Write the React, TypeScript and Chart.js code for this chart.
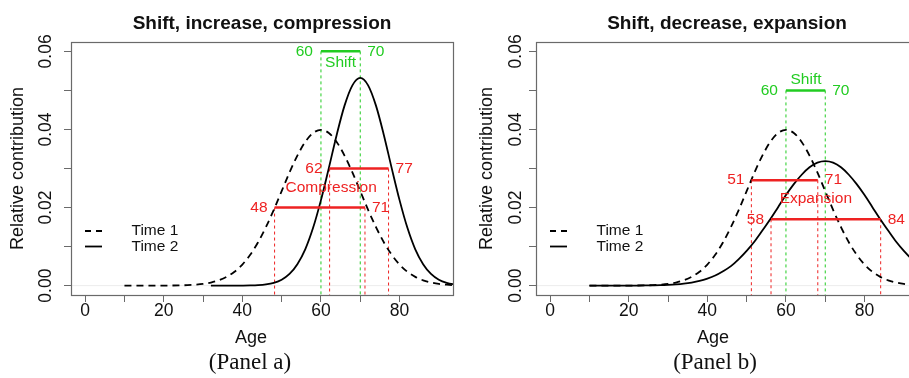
import React, { useEffect, useRef } from 'react';
import { Chart, registerables } from 'chart.js';

Chart.register(...registerables);

// ---------------- data ----------------
const AGES = [10, 12, 14, 16, 18, 20, 22, 24, 26, 28, 30, 32, 34, 36, 38, 40, 42, 44, 46, 48, 50, 52, 54, 56, 58, 60, 62, 64, 66, 68, 70, 72, 74, 76, 78, 80, 82, 84, 86, 88, 90, 92, 94, 96];

const TIME1 = [0.0000001, 0.0000004, 0.000001, 0.0000025, 0.000006, 0.000013, 0.000029, 0.000061, 0.000123, 0.000239, 0.000443, 0.00079, 0.00136, 0.00224, 0.00355, 0.0054, 0.0079, 0.0111, 0.015, 0.0194, 0.0242, 0.029, 0.0333, 0.0368, 0.0391, 0.0399, 0.0391, 0.0368, 0.0333, 0.029, 0.0242, 0.0194, 0.015, 0.0111, 0.0079, 0.0054, 0.00355, 0.00224, 0.00136, 0.00079, 0.00044, 0.00024, 0.00012, 0.00006];

const TIME2_A = [null, null, null, null, null, null, null, null, null, null, null, 0.0000001, 0.0000005, 0.0000018, 0.000006, 0.000018, 0.00005, 0.00013, 0.00032, 0.00072, 0.00152, 0.003, 0.0055, 0.0093, 0.0148, 0.0219, 0.0301, 0.0386, 0.0461, 0.0513, 0.0532, 0.0513, 0.0461, 0.0386, 0.0301, 0.0219, 0.0148, 0.0093, 0.0055, 0.003, 0.00152, 0.00072, 0.00032, 0.00013];

const TIME2_B = [0.0000003, 0.0000007, 0.0000014, 0.0000028, 0.0000056, 0.000011, 0.00002, 0.00004, 0.00007, 0.00011, 0.00019, 0.00031, 0.0005, 0.00079, 0.0012, 0.0018, 0.0026, 0.0037, 0.005, 0.0068, 0.0089, 0.0113, 0.0141, 0.017, 0.0201, 0.0232, 0.026, 0.0284, 0.0303, 0.0315, 0.0319, 0.0315, 0.0303, 0.0284, 0.026, 0.0232, 0.0201, 0.017, 0.0141, 0.0113, 0.0089, 0.0068, 0.005, 0.0037];

const X_TICKS = [0, 10, 20, 30, 40, 50, 60, 70, 80];
const X_LABELED = [0, 20, 40, 60, 80];
const Y_TICKS = [0, 0.01, 0.02, 0.03, 0.04, 0.05, 0.06];
const Y_LABELED = [0, 0.02, 0.04, 0.06];
const X_RANGE = [-3.6, 93.6];
const Y_RANGE = [-0.0024, 0.0624];

const TITLES = ['Shift, increase, compression', 'Shift, decrease, expansion'];
const CAPTIONS = ['(Panel a)', '(Panel b)'];
const SERIES_NAMES = ['Time 1', 'Time 2'];
const X_TITLE = 'Age';
const Y_TITLE = 'Relative contribution';

const SHIFT_NAME = 'Shift';
const SHIFT_X = [60, 70];
const SHIFT_Y = [0.06, 0.05];

const CHANGE_NAMES = ['Compression', 'Expansion'];
const CHANGE_A_Y = [0.03, 0.02];
const CHANGE_A_FROM = [62.2, 48.2];
const CHANGE_A_TO = [77.2, 71.2];
const CHANGE_A_LABELS = [['62', '77'], ['48', '71']];
const CHANGE_B_Y = [0.027, 0.017];
const CHANGE_B_FROM = [51.2, 56.2];
const CHANGE_B_TO = [68.1, 84.1];
const CHANGE_B_LABELS = [['51', '71'], ['58', '84']];

// ---------------- styles / layout ----------------
const GREEN = '#22cc22';
const RED = '#ee2222';
const INK = '#111111';
const FRAME = '#6a6a6a';
const SANS = '"Liberation Sans", Arial, Helvetica, sans-serif';
const SERIF = '"Liberation Serif", "Times New Roman", Times, serif';

const PANELS = [
  {
    left: 0,
    title: TITLES[0],
    caption: CAPTIONS[0],
    captionCenter: 250,
    time2: TIME2_A,
    shiftY: SHIFT_Y[0],
    shiftLabelAt: [65, 0.057],
    changeY: CHANGE_A_Y,
    changeFrom: CHANGE_A_FROM,
    changeTo: CHANGE_A_TO,
    changeLabels: CHANGE_A_LABELS,
    changeName: CHANGE_NAMES[0],
    changeNameAt: [62.6, 0.0251],
    yTickPad: 0.3,
    yTitlePad: 7.5,
    ageShift: -11,
  },
  {
    left: 465,
    title: TITLES[1],
    caption: CAPTIONS[1],
    captionCenter: 715,
    time2: TIME2_B,
    shiftY: SHIFT_Y[1],
    shiftLabelAt: [65.1, 0.0527],
    changeY: CHANGE_B_Y,
    changeFrom: CHANGE_B_FROM,
    changeTo: CHANGE_B_TO,
    changeLabels: CHANGE_B_LABELS,
    changeName: CHANGE_NAMES[1],
    changeNameAt: [67.6, 0.0222],
    yTickPad: -4.3,
    yTitlePad: 10.9,
    ageShift: -14,
  },
];

const LEGEND_DY = [189, 204.5];

type PanelCfg = (typeof PANELS)[number];

const near = (arr: number[], v: number) => arr.some((a) => Math.abs(a - v) < 1e-9);

function pts(xs: number[], ys: (number | null)[]) {
  const out: { x: number; y: number }[] = [];
  xs.forEach((x, i) => {
    const y = ys[i];
    if (y !== null && y !== undefined) out.push({ x, y });
  });
  return out;
}
function seg(x1: number, y1: number, x2: number, y2: number) {
  return [
    { x: x1, y: y1 },
    { x: x2, y: y2 },
  ];
}

function buildChart(canvas: HTMLCanvasElement, p: PanelCfg) {
  const base = { pointRadius: 0, pointHoverRadius: 0, fill: false, borderCapStyle: 'butt' as const };
  const datasets: any[] = [
    { ...base, label: 'zero', data: seg(X_RANGE[0], 0, X_RANGE[1], 0), borderColor: '#ececec', borderWidth: 1, order: 20 },
    ...SHIFT_X.map((x) => ({
      ...base,
      label: 'shift-v',
      data: seg(x, p.shiftY, x, Y_RANGE[0]),
      borderColor: GREEN,
      borderWidth: 1,
      borderDash: [3, 3],
      order: 15,
    })),
    ...p.changeY.flatMap((yv, i) =>
      [p.changeFrom[i], p.changeTo[i]].map((x) => ({
        ...base,
        label: 'change-v',
        data: seg(x, yv, x, Y_RANGE[0]),
        borderColor: RED,
        borderWidth: 1,
        borderDash: [3, 3],
        order: 15,
      }))
    ),
    {
      ...base,
      label: SERIES_NAMES[0],
      data: pts(AGES, TIME1),
      borderColor: '#000',
      borderWidth: 1.8,
      borderDash: [7, 5],
      cubicInterpolationMode: 'monotone',
      order: 10,
    },
    {
      ...base,
      label: SERIES_NAMES[1],
      data: pts(AGES, p.time2),
      borderColor: '#000',
      borderWidth: 1.8,
      cubicInterpolationMode: 'monotone',
      order: 10,
    },
    {
      ...base,
      label: 'shift',
      data: seg(SHIFT_X[0], p.shiftY, SHIFT_X[1], p.shiftY),
      borderColor: GREEN,
      borderWidth: 2.5,
      order: 1,
    },
    ...p.changeY.map((yv, i) => ({
      ...base,
      label: 'change',
      data: seg(p.changeFrom[i], yv, p.changeTo[i], yv),
      borderColor: RED,
      borderWidth: 2.5,
      order: 1,
    })),
  ];

  const decor = {
    id: 'decor',
    afterDatasetsDraw(chart: any) {
      const { ctx, chartArea: a, scales } = chart;
      const xs = scales.x;
      const ys = scales.y;
      ctx.save();
      ctx.font = `15.5px ${SANS}`;
      ctx.textBaseline = 'middle';
      // shift annotation
      ctx.fillStyle = GREEN;
      const sy = ys.getPixelForValue(p.shiftY);
      ctx.textAlign = 'right';
      ctx.fillText(String(SHIFT_X[0]), xs.getPixelForValue(SHIFT_X[0]) - 8, sy);
      ctx.textAlign = 'left';
      ctx.fillText(String(SHIFT_X[1]), xs.getPixelForValue(SHIFT_X[1]) + 7, sy);
      ctx.textAlign = 'center';
      ctx.fillText(SHIFT_NAME, xs.getPixelForValue(p.shiftLabelAt[0]), ys.getPixelForValue(p.shiftLabelAt[1]));
      // change annotation
      ctx.fillStyle = RED;
      p.changeY.forEach((yv, i) => {
        const py = ys.getPixelForValue(yv);
        ctx.textAlign = 'right';
        ctx.fillText(p.changeLabels[i][0], xs.getPixelForValue(p.changeFrom[i]) - 7, py);
        ctx.textAlign = 'left';
        ctx.fillText(p.changeLabels[i][1], xs.getPixelForValue(p.changeTo[i]) + 7, py);
      });
      ctx.textAlign = 'center';
      ctx.fillText(p.changeName, xs.getPixelForValue(p.changeNameAt[0]), ys.getPixelForValue(p.changeNameAt[1]));
      // legend
      SERIES_NAMES.forEach((name, i) => {
        const ly = a.top + LEGEND_DY[i];
        ctx.strokeStyle = '#000';
        ctx.lineWidth = 1.8;
        ctx.setLineDash(i === 0 ? [6, 5] : []);
        ctx.beginPath();
        ctx.moveTo(a.left + 14, ly);
        ctx.lineTo(a.left + 31, ly);
        ctx.stroke();
        ctx.setLineDash([]);
        ctx.fillStyle = INK;
        ctx.textAlign = 'left';
        ctx.fillText(name, a.left + 60.5, ly);
      });
      ctx.restore();
    },
    afterDraw(chart: any) {
      const { ctx, chartArea: a } = chart;
      ctx.save();
      ctx.strokeStyle = FRAME;
      ctx.lineWidth = 1.2;
      const l = Math.round(a.left) + 0.5;
      const t = Math.round(a.top) + 0.5;
      const r = Math.round(a.right) + 0.5;
      const b = Math.round(a.bottom) + 0.5;
      ctx.strokeRect(l, t, r - l, b - t);
      ctx.fillStyle = INK;
      ctx.font = `18px ${SANS}`;
      ctx.textAlign = 'center';
      ctx.textBaseline = 'alphabetic';
      ctx.fillText(X_TITLE, (a.left + a.right) / 2 + p.ageShift, 343);
      ctx.restore();
    },
  };

  return new Chart(canvas, {
    type: 'line',
    data: { datasets },
    plugins: [decor],
    options: {
      animation: false,
      responsive: false,
      devicePixelRatio: 1,
      events: [],
      layout: { padding: { left: 0, right: 7, top: 0, bottom: 0 } },
      plugins: {
        legend: { display: false },
        tooltip: { enabled: false },
        title: {
          display: true,
          text: p.title,
          fullSize: false,
          color: INK,
          font: { family: SANS, size: 19, weight: 'bold', lineHeight: 1.2 },
          padding: { top: 12.4, bottom: 6.8 },
        },
      },
      scales: {
        x: {
          type: 'linear',
          min: X_RANGE[0],
          max: X_RANGE[1],
          afterBuildTicks: (s: any) => {
            s.ticks = X_TICKS.map((v) => ({ value: v }));
          },
          afterFit: (s: any) => {
            s.height = 83;
          },
          border: { display: false },
          grid: { display: true, drawOnChartArea: false, drawTicks: true, tickLength: 7, color: FRAME, lineWidth: 1 },
          ticks: {
            autoSkip: false,
            minRotation: 0,
            maxRotation: 0,
            padding: 0,
            color: INK,
            font: { family: SANS, size: 17.5, lineHeight: 1 },
            callback: (v: any) => (near(X_LABELED, Number(v)) ? String(Math.round(Number(v))) : ''),
          },
        },
        y: {
          type: 'linear',
          min: Y_RANGE[0],
          max: Y_RANGE[1],
          afterBuildTicks: (s: any) => {
            s.ticks = Y_TICKS.map((v) => ({ value: v }));
          },
          afterFit: (s: any) => {
            s.width = 71;
          },
          border: { display: false },
          grid: { display: true, drawOnChartArea: false, drawTicks: true, tickLength: 7, color: FRAME, lineWidth: 1 },
          title: {
            display: true,
            text: Y_TITLE,
            color: INK,
            font: { family: SANS, size: 18, lineHeight: 1.2 },
            padding: { top: p.yTitlePad, bottom: 0 },
          },
          ticks: {
            autoSkip: false,
            minRotation: 90,
            maxRotation: 90,
            crossAlign: 'center',
            padding: p.yTickPad,
            color: INK,
            font: { family: SANS, size: 17.5, lineHeight: 1 },
            callback: (v: any) => (near(Y_LABELED, Number(v)) ? Number(v).toFixed(2) : ''),
          },
        },
      },
    } as any,
  });
}

function Panel({ cfg }: { cfg: PanelCfg }) {
  const ref = useRef<HTMLCanvasElement>(null);
  useEffect(() => {
    if (!ref.current) return;
    const chart = buildChart(ref.current, cfg);
    return () => chart.destroy();
  }, [cfg]);
  return (
    <canvas
      ref={ref}
      width={460}
      height={378}
      style={{ position: 'absolute', left: cfg.left, top: 0, width: 460, height: 378 }}
    />
  );
}

export default function App() {
  useEffect(() => {
    document.body.style.margin = '0';
  }, []);
  return (
    <div style={{ position: 'relative', width: 909, height: 378, overflow: 'hidden', background: '#fff' }}>
      <style>{'body{margin:0}'}</style>
      {PANELS.map((p, i) => (
        <Panel key={i} cfg={p} />
      ))}
      {PANELS.map((p, i) => (
        <div
          key={'c' + i}
          style={{
            position: 'absolute',
            left: p.captionCenter - 100,
            width: 200,
            top: 350,
            textAlign: 'center',
            fontFamily: SERIF,
            fontSize: 23,
            lineHeight: '23px',
            color: '#111',
          }}
        >
          {p.caption}
        </div>
      ))}
    </div>
  );
}
